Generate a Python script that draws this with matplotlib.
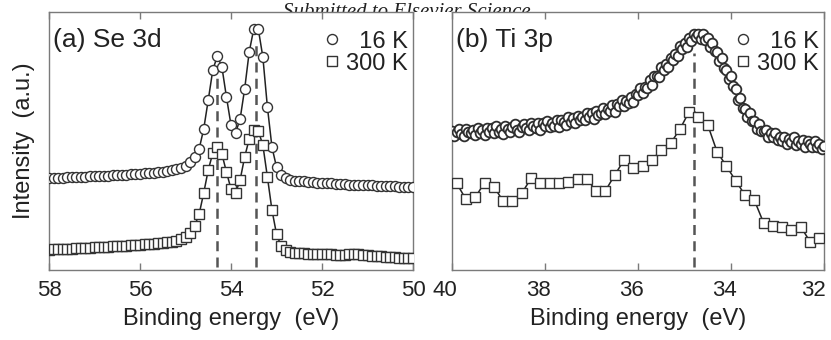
import numpy as np
import matplotlib
matplotlib.use('Agg')
import matplotlib.pyplot as plt
from matplotlib.lines import Line2D
from matplotlib.patches import Rectangle
from matplotlib.transforms import ScaledTranslation

plt.rcParams['font.family'] = ['Liberation Sans', 'DejaVu Sans']

# ---------------- data (a) Se 3d ----------------
se_energy = np.round(np.arange(58.0, 49.95, -0.1), 2)
se_16k = [92, 92, 92.3, 92.5, 92.7, 93, 93, 93.3, 93.5, 93.7,
          94, 94, 94.3, 94.5, 94.8, 95, 95.2, 95.5, 95.8, 96,
          96.3, 96.7, 97, 97.5, 98, 98.5, 99.2, 100, 101, 102.5,
          104.5, 108, 113, 121, 141, 170, 200, 214, 203, 173,
          145, 137, 151, 181, 218, 241, 241, 213, 163, 123,
          103, 95, 92, 90.5, 89.5, 89, 88.6, 88.2, 87.8, 87.5,
          87.2, 86.9, 86.6, 86.3, 86, 85.7, 85.5, 85.3, 85.1, 85,
          84.8, 84.6, 84.4, 84.2, 84, 83.8, 83.6, 83.4, 83.2, 83, 82.8]
se_300k = [20.5, 20.7, 21, 21, 21.3, 21.5, 21.8, 22, 22.3, 22.5,
           22.8, 23, 23.3, 23.5, 23.8, 24, 24.3, 24.5, 24.8, 25,
           25.3, 25.6, 26, 26.4, 26.8, 27.3, 27.8, 28.5, 29.5, 31,
           33.5, 37, 44, 56, 77, 100, 117, 123, 116, 98,
           81, 77, 90, 113, 131, 140, 139, 125, 93, 60,
           36, 24, 20, 18.5, 17.5, 17, 16.7, 16.5, 16.3, 16,
           16, 15.8, 15.6, 15.5, 15.5, 15.5, 15.7, 16, 16, 15.5,
           15, 14.5, 14, 13.6, 13.3, 13, 12.8, 12.5, 12.3, 12, 12]
se_peaks = [54.3, 53.45]
se_peak_tops = [193, 225]

# ---------------- data (b) Ti 3p ----------------
ti_energy_16k = np.round(np.arange(40.0, 31.975, -0.05), 2)
ti_16k = [139, 134, 138, 141, 136, 134, 141, 138, 137, 140,
          135, 142, 137, 140, 135, 142, 138, 142, 137, 144,
          138, 141, 136, 144, 141, 138, 143, 146, 140, 138,
          143, 146, 142, 140, 147, 144, 142, 147, 140, 147,
          144, 149, 143, 147, 144, 150, 143, 150, 148, 145,
          153, 148, 152, 147, 154, 150, 153, 150, 157, 153,
          157, 151, 159, 155, 157, 162, 156, 161, 159, 165,
          158, 166, 164, 170, 164, 169, 167, 173, 168, 176,
          175, 182, 177, 183, 182, 190, 185, 194, 194, 193,
          203, 200, 206, 203, 212, 210, 216, 214, 224, 221,
          227, 223, 232, 229, 236, 233, 236, 231, 236, 230,
          232, 223, 227, 219, 218, 209, 212, 202, 200, 191,
          194, 184, 181, 170, 172, 162, 161, 153, 157, 149,
          149, 141, 146, 139, 139, 140, 133, 137, 133, 137,
          130, 133, 129, 133, 126, 131, 128, 133, 125, 129,
          126, 130, 123, 129, 126, 123, 129, 123, 126, 121, 124]
ti_energy_300k = np.round(np.arange(39.9, 32.05, -0.2), 2)
ti_300k = [86.7, 70.7, 72.7, 87.3, 83.3, 69, 69, 76.7, 91.7, 86.7,
           86.7, 86.7, 88.3, 90.7, 90.7, 79.3, 79.3, 95, 110, 101.7,
           104, 110, 120, 126.7, 140.7, 158.3, 153.3, 145, 118.3, 104,
           89.3, 75, 70, 47.3, 44, 42.7, 40, 43.3, 28.3, 31.7]
ti_peaks = [34.8]
ti_peak_tops = [217]

line_c = '#222222'
edge_c = '#333333'
spine_c = '#7a7a7a'
dash_c = '#555555'
text_c = '#222222'

fig = plt.figure(figsize=(8.31, 3.4), dpi=100)

# clipped header text from the page behind the figure
fig.text(0.49, 0.95, 'Submitted to Elsevier Science', family='Liberation Serif',
         style='italic', fontsize=15, ha='center', va='baseline', color=text_c, zorder=-2)
fig.patches.append(Rectangle((0, 0), 1, (340 - 12) / 340, transform=fig.transFigure,
                             facecolor='white', edgecolor='none', zorder=-1))

ax1 = fig.add_axes([49 / 831, 70 / 340, 364 / 831, 258 / 340])
ax2 = fig.add_axes([452 / 831, 70 / 340, 372 / 831, 258 / 340])

mk = dict(mfc='white', mec=edge_c, ms=7.2, mew=1.0)

ax1.vlines(se_peaks, 3, se_peak_tops, colors=dash_c, linestyles=(0, (4, 2.5)), lw=1.8, zorder=1)
ax1.plot(se_energy, se_16k, '-o', color=line_c, lw=1.1, zorder=3, **mk)
ax1.plot(se_energy, se_300k, '-s', color=line_c, lw=1.1, zorder=3,
         ms=6.8, mfc='white', mec=edge_c, mew=1.0)
ax1.set_xlim(58, 50)
ax1.set_xticks([58, 56, 54, 52, 50])

ax2.vlines(ti_peaks, 3, ti_peak_tops, colors=dash_c, linestyles=(0, (4, 2.5)), lw=1.8, zorder=1)
ax2.plot(ti_energy_16k, ti_16k, 'o', ls='none', zorder=3, mfc='white', mec='#2e2e2e', ms=7, mew=1.3)
ax2.plot(ti_energy_300k, ti_300k, '-s', color=line_c, lw=1.1, zorder=3, ms=7, mfc='white', mec=edge_c, mew=1.0)
ax2.set_xlim(40, 32)
ax2.set_xticks([40, 38, 36, 34, 32])

for ax, title in [(ax1, '(a) Se 3d'), (ax2, '(b) Ti 3p')]:
    ax.set_ylim(0, 258)
    for s in ax.spines.values():
        s.set_color(spine_c)
        s.set_linewidth(1.0)
    ax.tick_params(axis='x', direction='in', top=True, length=5, width=1, color=spine_c,
                   labelsize=16, pad=7, labelcolor=text_c)
    ax.tick_params(axis='y', left=False, labelleft=False)
    ax.set_xlabel('Binding energy  (eV)', fontsize=17, color=text_c, labelpad=5)
    ax.text(0.012, 0.89, title, transform=ax.transAxes, fontsize=19, va='center',
            ha='left', color=text_c)
    handles = [Line2D([], [], marker='o', ls='none', mfc='white', mec=edge_c, ms=7.2, mew=1.0),
               Line2D([], [], marker='s', ls='none', mfc='white', mec=edge_c, ms=7, mew=1.0)]
    leg = ax.legend(handles, ['  16 K', '300 K'], loc='upper right', frameon=False,
                    fontsize=17, handlelength=0.8, handletextpad=0.2,
                    labelspacing=0.0, borderaxespad=0.0, borderpad=0.3,
                    bbox_to_anchor=(1.005, 0.955))
    for t in leg.get_texts():
        t.set_color(text_c)

# right panel tick labels sit slightly left of their ticks in the reference
fig.canvas.draw()
for i, lab in enumerate(ax2.get_xticklabels()):
    dx = -11 if i == 4 else -7
    lab.set_transform(lab.get_transform() + ScaledTranslation(dx / 100, 0, fig.dpi_scale_trans))

ax1.set_ylabel('Intensity  (a.u.)', fontsize=17, color=text_c, labelpad=10)

fig.savefig('out.png', dpi=100)
